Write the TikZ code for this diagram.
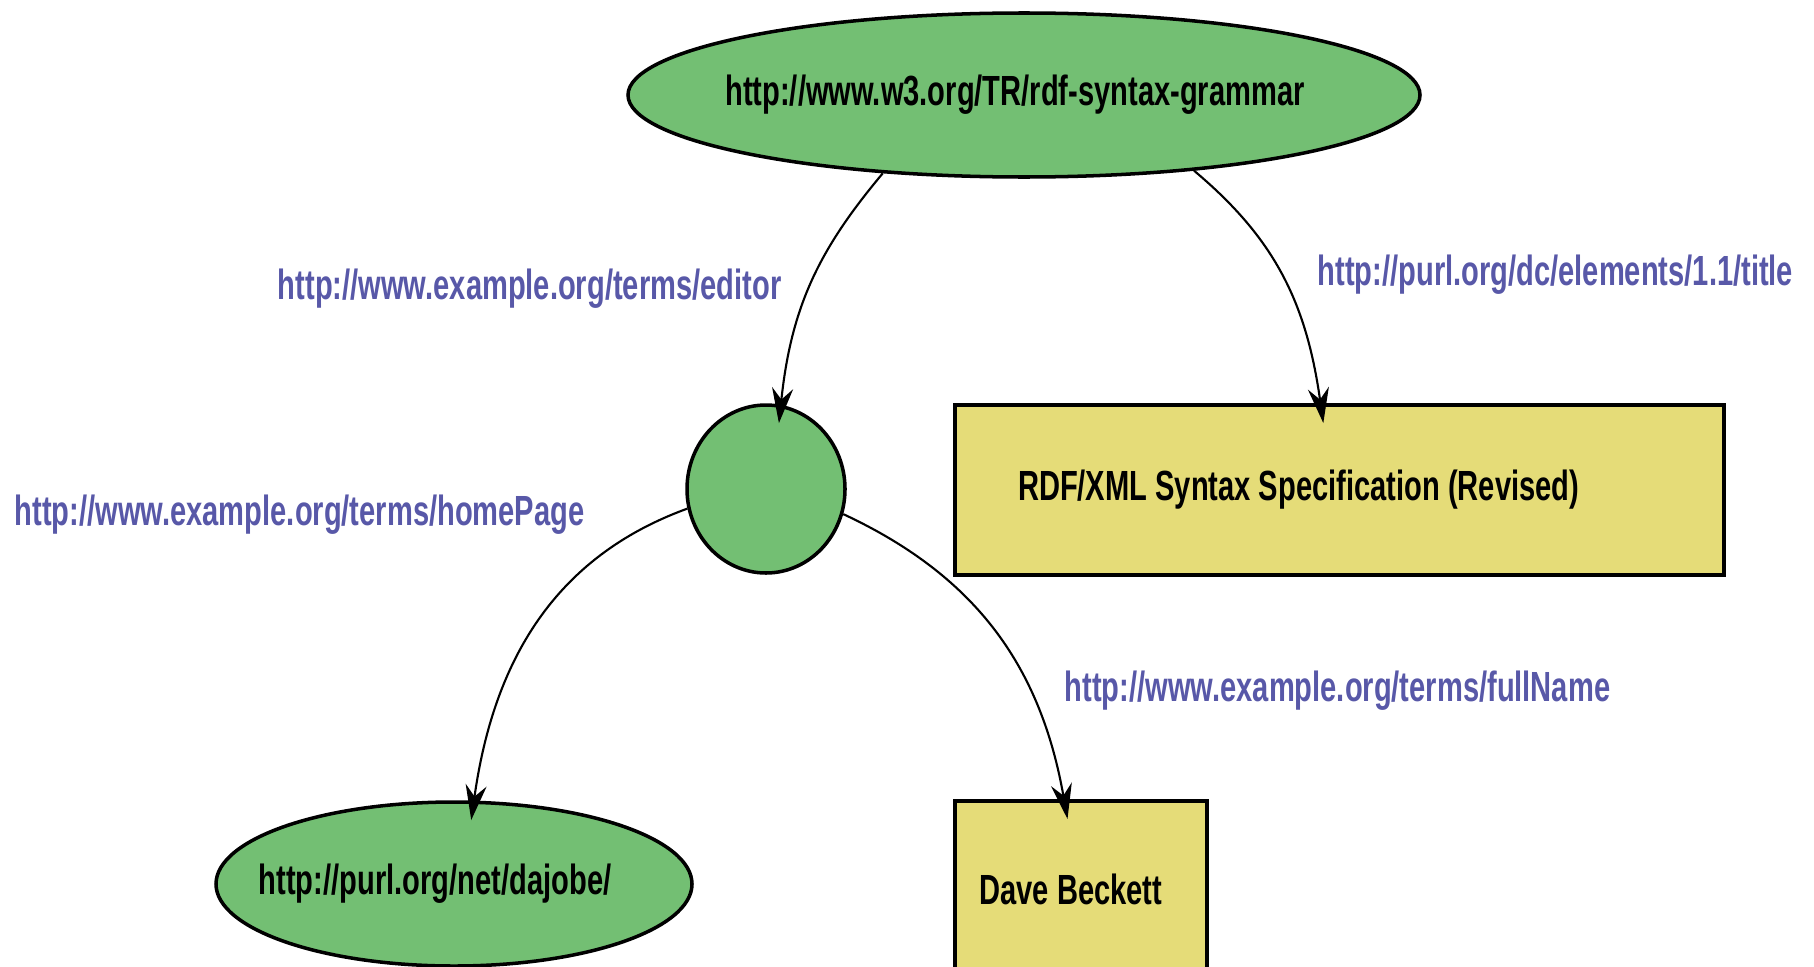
\documentclass[tikz,border=0pt]{standalone}
\usepackage{fontspec}
\setmainfont{Liberation Sans}[FakeStretch=0.69]
\usetikzlibrary{shapes.geometric,arrows.meta}
\definecolor{rdfgreen}{RGB}{115,191,115}
\definecolor{rdfyellow}{RGB}{229,220,120}
\definecolor{rdfblue}{RGB}{88,88,168}

\begin{document}
\begin{tikzpicture}[
	font=\fontsize{12}{14}\selectfont\bfseries,
	resource/.style={ellipse, draw, line width=1pt, fill=rdfgreen, inner sep=0pt},
	literal/.style={rectangle, draw, line width=1pt, fill=rdfyellow, inner sep=0pt},
	property/.style={text=rdfblue, inner sep=0pt},
	arc/.style={-{Stealth[length=10pt,width=6pt]}, line width=0.6pt, shorten >=-0.2cm}]
			\useasboundingbox (0,0) rectangle (18.14,9.66);
			\clip (0,0) rectangle (18.14,9.66);
			
			%resources
			\node[resource, minimum width=7.92cm, minimum height=1.64cm] (grammar) at (10.24, 8.71){\makebox[0pt]{http://www.w3.org/TR/rdf-syntax-grammar\hspace*{0.18cm}}};
			\node[resource, minimum width=1.58cm, minimum height=1.68cm] (editor) at (7.66, 4.77){};
			\node[resource, minimum width=4.76cm, minimum height=1.64cm] (dajobe) at (4.54, 0.82){\makebox[0pt]{http://purl.org/net/dajobe/\hspace*{0.38cm}}};
			
			%literals
			\node[literal, minimum height=1.70cm, text width=6.43cm, inner xsep=0.63cm, align=flush left] (spec) at (13.395, 4.76){RDF/XML Syntax Specification (Revised)};
			\node[literal, minimum width=2.52cm, minimum height=1.76cm] (beckett) at (10.81, 0.77){\makebox[0pt]{Dave Beckett\hspace*{0.2cm}}};
			
			%properties
			\node[property, anchor=east] (editorlbl) at (7.82, 6.77){http://www.example.org/terms/editor};
			\node[property, anchor=west] (titlelbl) at (13.17, 6.91){http://purl.org/dc/elements/1.1/title};
			\node[property, anchor=west] (homelbl) at (0.14, 4.51){http://www.example.org/terms/homePage};
			\node[property, anchor=west] (namelbl) at (10.64, 2.75){http://www.example.org/terms/fullName};
			
			%arcs
			\draw[arc] (grammar.209) to[out=230, in=84] ([xshift=0.15cm]editor.north);
			\draw[arc] (grammar.-24) to[out=-40, in=98] ([xshift=-0.19cm]spec.north);
			\draw[arc] (editor.194) to[out=200, in=82] ([xshift=0.2cm]dajobe.north);
			\draw[arc] (editor.-18) to[out=-25, in=100] ([xshift=-0.17cm]beckett.north);
		\end{tikzpicture}
\end{document}
